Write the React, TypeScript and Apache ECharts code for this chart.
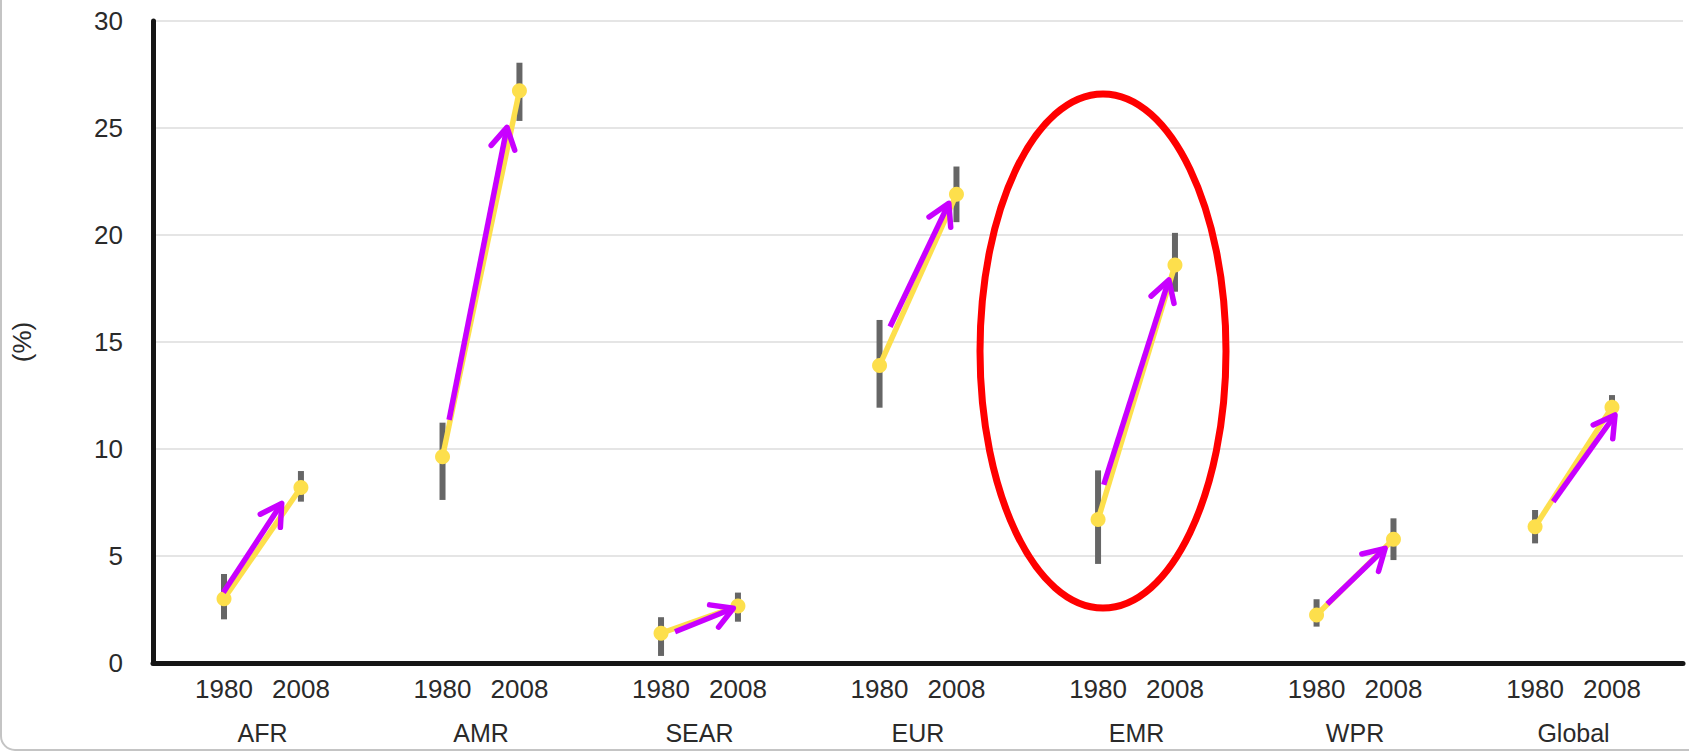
import React, { useEffect, useRef } from "react";
import * as echarts from "echarts";

// ---- data ----
const regions = ["AFR", "AMR", "SEAR", "EUR", "EMR", "WPR", "Global"];
const yearLabels = ["1980", "2008"];
const value1980 = [3.0, 9.64, 1.39, 13.9, 6.7, 2.24, 6.37];
const value2008 = [8.2, 26.74, 2.66, 21.9, 18.6, 5.78, 11.95];
const low1980 = [2.04, 7.62, 0.33, 11.93, 4.63, 1.7, 5.59];
const high1980 = [4.16, 11.23, 2.14, 16.03, 9.0, 2.98, 7.15];
const low2008 = [7.54, 25.33, 1.93, 20.6, 17.35, 4.81, 11.6];
const high2008 = [8.97, 28.05, 3.29, 23.2, 20.1, 6.76, 12.52];

// hand-drawn magenta annotation arrows (axis units: region index, %)
const arrowFrom = [
  [-0.003, 3.29],
  [1.03, 11.36],
  [2.064, 1.46],
  [3.048, 15.71],
  [4.026, 8.33],
  [5.049, 2.76],
  [6.083, 7.54],
];
const arrowTo = [
  [0.264, 7.46],
  [1.295, 25.03],
  [2.331, 2.56],
  [3.317, 21.48],
  [4.324, 17.9],
  [5.314, 5.36],
  [6.366, 11.59],
];

const yMin = 0;
const yMax = 30;
const yInterval = 5;

// layout helpers
const yearOffset = [0, 0.352];
const xPos = (g: number, yi: number) => g + yearOffset[yi];

const FONT = "'Liberation Sans', Arial, sans-serif";
const YELLOW = "#FDDF4C";
const MAGENTA = "#C800FF";
const TEXT = "#2a2a2a";

export default function App() {
  const ref = useRef<HTMLDivElement>(null);

  useEffect(() => {
    if (!ref.current) return;
    const chart = echarts.init(ref.current, null, { renderer: "svg" });

    const yearTickValues: number[] = [];
    const yearTickNames: string[] = [];
    regions.forEach((_, g) => {
      yearLabels.forEach((y, yi) => {
        yearTickValues.push(xPos(g, yi));
        yearTickNames.push(y);
      });
    });
    const regionCenters = regions.map((_, g) => (xPos(g, 0) + xPos(g, 1)) / 2);

    const nearest = (arr: number[], v: number) => {
      let best = 0;
      let bd = Infinity;
      arr.forEach((t, i) => {
        const d = Math.abs(t - v);
        if (d < bd) {
          bd = d;
          best = i;
        }
      });
      return best;
    };

    const errorData: number[][] = [];
    regions.forEach((_, g) => {
      errorData.push([xPos(g, 0), low1980[g], high1980[g]]);
      errorData.push([xPos(g, 1), low2008[g], high2008[g]]);
    });

    const arrowData = regions.map((_, g) => [
      arrowFrom[g][0],
      arrowFrom[g][1],
      arrowTo[g][0],
      arrowTo[g][1],
    ]);

    const xMin = -0.325;
    const xMax = 6.677;

    const lineSeries = regions.map((name, g) => ({
      type: "line",
      name,
      data: [
        [xPos(g, 0), value1980[g]],
        [xPos(g, 1), value2008[g]],
      ],
      symbol: "circle",
      symbolSize: 15,
      itemStyle: { color: YELLOW },
      lineStyle: { color: YELLOW, width: 5.5 },
      z: 3,
      silent: true,
    }));

    const option: any = {
      animation: false,
      backgroundColor: "#ffffff",
      grid: { left: 153, right: 6, top: 21, bottom: 88, containLabel: false },
      xAxis: [
        {
          type: "value",
          min: xMin,
          max: xMax,
          position: "bottom",
          splitLine: { show: false },
          axisTick: { show: false },
          axisLine: { show: true, onZero: false, lineStyle: { color: "#151515", width: 5 } },
          axisLabel: {
            customValues: yearTickValues,
            formatter: (v: number) => yearTickNames[nearest(yearTickValues, v)],
            margin: 13,
            fontSize: 26,
            color: TEXT,
            fontFamily: FONT,
          },
        },
        {
          type: "value",
          min: xMin,
          max: xMax,
          position: "bottom",
          splitLine: { show: false },
          axisTick: { show: false },
          axisLine: { show: false, onZero: false },
          axisLabel: {
            customValues: regionCenters,
            formatter: (v: number) => regions[nearest(regionCenters, v)],
            margin: 57,
            fontSize: 25,
            color: TEXT,
            fontFamily: FONT,
          },
        },
      ],
      yAxis: {
        type: "value",
        min: yMin,
        max: yMax,
        interval: yInterval,
        name: "(%)",
        nameLocation: "middle",
        nameGap: 118,
        nameTextStyle: { fontSize: 26, color: TEXT, fontFamily: FONT, padding: [0, 0, 0, 0] },
        axisLine: { show: true, onZero: false, lineStyle: { color: "#151515", width: 5 } },
        axisTick: { show: false },
        splitLine: { show: true, lineStyle: { color: "#dcdcdc", width: 1.5 } },
        axisLabel: { fontSize: 26, color: TEXT, margin: 30, fontFamily: FONT },
      },
      series: [
        {
          type: "custom",
          name: "uncertainty",
          data: errorData,
          encode: { x: 0, y: [1, 2] },
          z: 1,
          silent: true,
          renderItem: (params: any, api: any) => {
            const x = api.value(0);
            const p1 = api.coord([x, api.value(1)]);
            const p2 = api.coord([x, api.value(2)]);
            return {
              type: "line",
              shape: { x1: p1[0], y1: p1[1], x2: p2[0], y2: p2[1] },
              style: { stroke: "#666666", lineWidth: 6, lineCap: "butt" },
            };
          },
        },
        ...lineSeries,
        {
          type: "custom",
          name: "arrows",
          data: arrowData,
          encode: { x: [0, 2], y: [1, 3] },
          z: 5,
          silent: true,
          renderItem: (params: any, api: any) => {
            const a = api.coord([api.value(0), api.value(1)]);
            const b = api.coord([api.value(2), api.value(3)]);
            const dx = a[0] - b[0];
            const dy = a[1] - b[1];
            const len = Math.sqrt(dx * dx + dy * dy) || 1;
            const ux = dx / len;
            const uy = dy / len;
            const ang = (30 * Math.PI) / 180;
            const L = 24;
            const rot = (s: number) => [
              b[0] + L * (ux * Math.cos(s * ang) - uy * Math.sin(s * ang)),
              b[1] + L * (ux * Math.sin(s * ang) + uy * Math.cos(s * ang)),
            ];
            const w1 = rot(1);
            const w2 = rot(-1);
            const st = { stroke: MAGENTA, lineWidth: 5.5, lineCap: "round", lineJoin: "round", fill: "none" };
            return {
              type: "group",
              children: [
                { type: "line", shape: { x1: a[0], y1: a[1], x2: b[0], y2: b[1] }, style: { ...st, lineCap: "butt" } },
                { type: "polyline", shape: { points: [w1, b, w2] }, style: st },
              ],
            };
          },
        },
      ],
      graphic: [
        {
          type: "ellipse",
          shape: { cx: 1103, cy: 351, rx: 123, ry: 257 },
          style: { fill: "none", stroke: "#FF0000", lineWidth: 7 },
          z: 10,
          silent: true,
        },
        {
          type: "rect",
          shape: { x: 1, y: -20, width: 1720, height: 770, r: [0, 0, 0, 14] },
          style: { fill: "none", stroke: "#c4c4c4", lineWidth: 2 },
          z: 10,
          silent: true,
        },
      ],
    };

    chart.setOption(option);
    return () => chart.dispose();
  }, []);

  return (
    <div
      ref={ref}
      style={{ position: "fixed", left: 0, top: 0, width: 1689, height: 751, background: "#fff" }}
    />
  );
}
